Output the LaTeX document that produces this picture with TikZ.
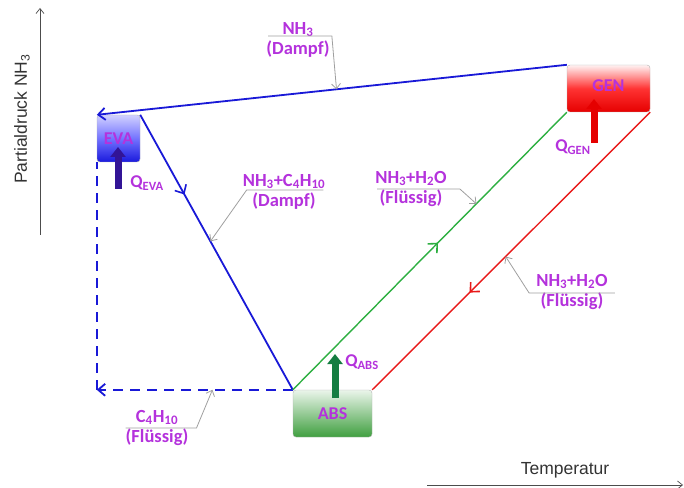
\documentclass[tikz,border=0pt]{standalone}
\usepackage{fontspec}
\setmainfont{Carlito}
\newfontfamily\axisfont{Liberation Sans}
\usetikzlibrary{arrows.meta,positioning,calc,decorations.markings}

\definecolor{labelpurple}{RGB}{180,50,220}
\definecolor{lineblue}{RGB}{25,25,215}
\definecolor{linegreen}{RGB}{45,175,65}
\definecolor{linered}{RGB}{232,25,25}
\definecolor{heatblue}{RGB}{50,20,150}
\definecolor{heatgreen}{RGB}{20,125,65}

\begin{document}
\begin{tikzpicture}[
    x=1bp, y=-1bp,
    >=Stealth,
    unit box/.style={draw=gray!60, rounded corners=3bp, inner sep=0pt,
        font=\fontsize{18bp}{20bp}\selectfont\bfseries, text=labelpurple},
    flow label/.style={align=center, inner sep=0pt, text=labelpurple,
        font=\fontsize{18.5bp}{20.5bp}\selectfont\bfseries},
    heat label/.style={inner sep=0pt, text=labelpurple,
        font=\fontsize{18bp}{20bp}\selectfont\bfseries},
    axis label/.style={inner sep=0pt, text=black!80, font=\axisfont\fontsize{17.5bp}{19bp}\selectfont},
    flow line/.style={line width=1.8bp},
    mid arrow/.style={postaction={decorate}, decoration={markings,
        mark=at position #1 with {\arrow{Straight Barb[length=7bp,width=13bp,line width=1.6bp]}}}},
    callout/.style={gray!75, line width=0.8bp, -{Straight Barb[length=5bp,width=9bp]}},
    heat/.style={line width=7bp, -{Triangle[length=10bp,width=15bp]}},
]

\useasboundingbox (0,0) rectangle (684,488);

% Axes
\coordinate (yfoot) at (40,235);
\coordinate (ytop) at (40,8);
\coordinate (xfoot) at (427,485);
\coordinate (xtip) at (683,485);
\draw[black!70, line width=0.7bp, -{Straight Barb[length=5bp,width=8bp]}] (yfoot) -- (ytop);
\draw[black!70, line width=0.7bp, -{Straight Barb[length=5bp,width=8bp]}] (xfoot) -- (xtip);
\node[axis label, rotate=90] (ylabel) at (22,119) {Partialdruck NH\textsubscript{3}};
\node[axis label] (xlabel) at (565,470) {Temperatur};

% Components
\node[unit box, top color=blue!18, bottom color=blue!85!black!90, middle color=blue!55,
    minimum width=43bp, minimum height=47bp] (eva) at (118.5,138.5) {EVA};
\node[unit box, top color=red!5, bottom color=red!90!black, middle color=red!80,
    minimum width=83bp, minimum height=47bp, text depth=6bp] (gen) at (608.5,88.5) {GEN};
\node[unit box, top color=green!50!black!8, bottom color=green!50!black!75,
    minimum width=79bp, minimum height=47bp] (abs) at (332.5,413.5) {ABS};

% Refrigerant vapour and liquid paths
\draw[flow line, lineblue, -{Straight Barb[length=7bp,width=12bp]}] (gen.north west)
    -- coordinate[pos=0.49] (vaptip) (eva.north west);
\draw[flow line, lineblue, mid arrow=0.29] (eva.north east)
    -- coordinate[pos=0.46] (mixtip) (abs.north west);
\coordinate (corner) at (eva.south west |- abs.north west);
\draw[flow line, lineblue, dash pattern=on 10bp off 7bp, -{Straight Barb[length=7bp,width=12bp]}]
    (abs.north west) -- coordinate[pos=0.41] (butip) (corner);
\draw[flow line, lineblue, dash pattern=on 10bp off 7bp] (corner) -- (eva.south west);

% Solution loop
\draw[line width=1.4bp, linegreen, mid arrow=0.53] (abs.north west)
    -- coordinate[pos=0.67] (richtip) (gen.south west);
\draw[line width=1.4bp, linered, mid arrow=0.65] (gen.south east)
    -- coordinate[pos=0.52] (leantip) (abs.north east);

% Heat flows
\coordinate (qevafoot) at (118,189);
\coordinate (qgenfoot) at (594,143);
\coordinate (qabsfoot) at (335,398);
\draw[heat, heatblue] (qevafoot) -- ++(0,-42);
\draw[heat, red!90!black] (qgenfoot) -- ++(0,-44);
\draw[heat, heatgreen] (qabsfoot) -- ++(0,-44);
\node[heat label] (qeva) at (147,183) {Q\textsubscript{EVA}};
\node[heat label] (qgen) at (573,147) {Q\textsubscript{GEN}};
\node[heat label] (qabs) at (362,362) {Q\textsubscript{ABS}};

% Stream labels
\node[flow label] (lblvap) at (298,40) {NH\textsubscript{3}\\(Dampf)};
\draw[callout] ($(lblvap.west)+(2,-4)$) -- ($(lblvap.east)+(2,-4)$) -- (vaptip);

\node[flow label] (lblmix) at (284,192) {NH\textsubscript{3}+C\textsubscript{4}H\textsubscript{10}\\(Dampf)};
\draw[callout] ($(lblmix.east)+(-2,-2)$) -- ($(lblmix.west)+(4,-2)$) -- (mixtip);

\node[flow label] (lblrich) at (411,189) {NH\textsubscript{3}+H\textsubscript{2}O\\(Flüssig)};
\draw[callout] ($(lblrich.west)+(2,0)$) -- ($(lblrich.east)+(13,0)$) -- (richtip);

\node[flow label] (lbllean) at (572,292) {NH\textsubscript{3}+H\textsubscript{2}O\\(Flüssig)};
\draw[callout] ($(lbllean.east)+(7,1)$) -- ($(lbllean.west)+(-7,1)$) -- (leantip);

\node[flow label] (lblbut) at (157,428) {C\textsubscript{4}H\textsubscript{10}\\(Flüssig)};
\draw[callout] ($(lblbut.west)+(0,0)$) -- ($(lblbut.east)+(8,0)$) -- (butip);

\end{tikzpicture}
\end{document}
